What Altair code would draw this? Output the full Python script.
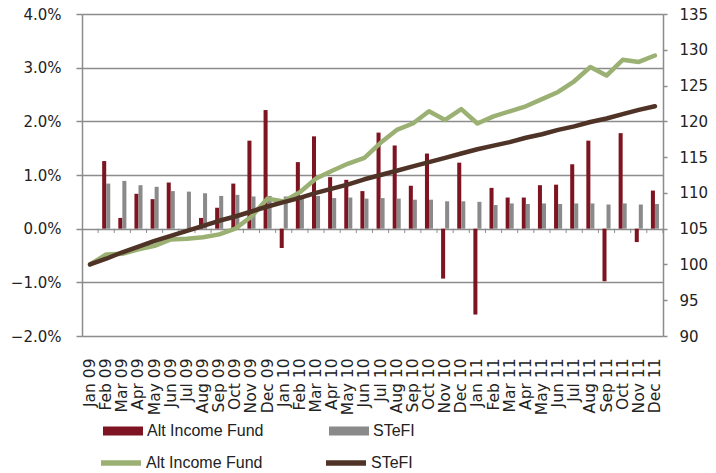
import altair as alt
import pandas as pd

months = ["Jan 09", "Feb 09", "Mar 09", "Apr 09", "May 09", "Jun 09", "Jul 09", "Aug 09",
          "Sep 09", "Oct 09", "Nov 09", "Dec 09", "Jan 10", "Feb 10", "Mar 10", "Apr 10",
          "May 10", "Jun 10", "Jul 10", "Aug 10", "Sep 10", "Oct 10", "Nov 10", "Dec 10",
          "Jan 11", "Feb 11", "Mar 11", "Apr 11", "May 11", "Jun 11", "Jul 11", "Aug 11",
          "Sep 11", "Oct 11", "Nov 11", "Dec 11"]

# monthly returns, in percent
alt_ret = [0.0, 1.26, 0.20, 0.65, 0.55, 0.86, 0.0, 0.20, 0.39, 0.84, 1.64, 2.21,
           -0.36, 1.24, 1.72, 0.96, 0.91, 0.70, 1.79, 1.55, 0.80, 1.40, -0.93, 1.23,
           -1.60, 0.76, 0.58, 0.58, 0.81, 0.82, 1.20, 1.64, -0.98, 1.78, -0.25, 0.71]
stefi_ret = [0.0, 0.84, 0.89, 0.81, 0.78, 0.70, 0.69, 0.66, 0.61, 0.63, 0.60, 0.61,
             0.60, 0.56, 0.61, 0.57, 0.58, 0.56, 0.57, 0.56, 0.54, 0.54, 0.51, 0.51,
             0.50, 0.44, 0.47, 0.46, 0.47, 0.46, 0.47, 0.47, 0.45, 0.47, 0.45, 0.46]

# cumulative index (right axis)
alt_idx = [100.0, 101.4, 101.5, 102.1, 102.6, 103.5, 103.6, 103.8, 104.2, 105.0, 106.7, 109.2,
           108.8, 110.1, 112.0, 113.1, 114.1, 114.9, 117.0, 118.8, 119.7, 121.4, 120.2, 121.7,
           119.7, 120.7, 121.4, 122.1, 123.1, 124.1, 125.6, 127.6, 126.4, 128.6, 128.3, 129.2]
stefi_idx = [100.0, 100.8, 101.7, 102.5, 103.3, 104.0, 104.7, 105.4, 106.1, 106.7, 107.4, 108.1,
             108.7, 109.3, 110.0, 110.6, 111.2, 111.9, 112.5, 113.1, 113.7, 114.3, 114.9, 115.5,
             116.1, 116.6, 117.1, 117.7, 118.2, 118.8, 119.3, 119.9, 120.4, 121.0, 121.6, 122.1]

series = ["Alt Income Fund", "STeFI"]
bar_colors = ["#7e1421", "#8a8a8a"]
line_colors = ["#9bb173", "#4f3326"]
GRID = "#8c8c8c"
FONT = "DejaVu Sans"

bars_df = pd.DataFrame({
    "month": months * 2,
    "fund": [series[0]] * len(months) + [series[1]] * len(months),
    "ret": [v / 100 for v in alt_ret] + [v / 100 for v in stefi_ret],
})
lines_df = pd.DataFrame({
    "month": months * 2,
    "series": [series[0]] * len(months) + [series[1]] * len(months),
    "idx": alt_idx + stefi_idx,
})
ticks_df = pd.DataFrame({"month": months})

x_enc = alt.X("month:N", sort=months, title=None,
              scale=alt.Scale(paddingInner=0.5, paddingOuter=0.25),
              axis=alt.Axis(labelAngle=270, labelFont=FONT, labelFontSize=15.5,
                            labelColor="#222222", labelPadding=22, domain=False,
                            ticks=False, labelOverlap=False))

bars = alt.Chart(bars_df).mark_bar().encode(
    x=x_enc,
    xOffset=alt.XOffset("fund:N", sort=series, scale=alt.Scale(paddingInner=0, paddingOuter=0)),
    y=alt.Y("ret:Q", title=None,
            scale=alt.Scale(domain=[-0.02, 0.04], nice=False, zero=False),
            axis=alt.Axis(format=".1%", values=[-0.02, -0.01, 0.0, 0.01, 0.02, 0.03, 0.04],
                          grid=True, gridColor=GRID, gridWidth=1.5,
                          domainColor=GRID, domainWidth=1.5, tickColor=GRID, tickWidth=1.5,
                          tickSize=6, labelFont=FONT, labelFontSize=15, labelColor="#222222",
                          labelPadding=15)),
    color=alt.Color("fund:N", sort=series,
                    scale=alt.Scale(range=bar_colors),
                    legend=alt.Legend(title=None, orient="none", legendX=21, legendY=397,
                                      direction="horizontal", columns=2, columnPadding=65,
                                      symbolType="M-1,-0.22H1V0.22H-1Z", symbolSize=1600,
                                      symbolStrokeWidth=0, labelFont="Liberation Sans",
                                      labelFontSize=16, labelColor="#222222", labelOffset=4,
                                      padding=0, offset=0)),
)

# small tick marks on the 0% line, at the boundaries between months
zero_ticks = alt.Chart(ticks_df).mark_rule(color=GRID, strokeWidth=1, xOffset=4).encode(
    x=alt.X("month:N", sort=months, bandPosition=1),
    y=alt.YDatum(0),
    y2=alt.Y2Datum(-0.0008),
)

left = alt.layer(bars, zero_ticks)

lines = alt.Chart(lines_df).mark_line(strokeWidth=4.5, strokeCap="round", strokeJoin="round").encode(
    x=alt.X("month:N", sort=months),
    y=alt.Y("idx:Q", title=None,
            scale=alt.Scale(domain=[90, 135], nice=False, zero=False),
            axis=alt.Axis(orient="right", values=list(range(90, 136, 5)), grid=False,
                          domainColor=GRID, domainWidth=1.5, tickColor=GRID, tickWidth=1.5,
                          tickSize=4, labelFont=FONT, labelFontSize=15, labelColor="#222222",
                          labelPadding=12)),
    stroke=alt.Stroke("series:N", sort=series,
                      scale=alt.Scale(range=line_colors),
                      legend=alt.Legend(title=None, orient="none", legendX=16, legendY=426,
                                        direction="horizontal", columns=2, columnPadding=52,
                                        symbolType="stroke", symbolSize=1600,
                                        symbolStrokeWidth=5.5, labelFont="Liberation Sans",
                                        labelFontSize=16, labelColor="#222222", labelOffset=2,
                                        padding=0, offset=0)),
    order=alt.Order("series:N"),
)

chart = alt.layer(left, lines).resolve_scale(y="independent").properties(
    width=581, height=322,
    autosize=alt.AutoSizeParams(type="none"),
    padding={"left": 74, "top": 6, "right": 45, "bottom": 137},
).configure_view(stroke=None)

chart.save("out.html", embed_options={"renderer": "svg", "actions": False})
